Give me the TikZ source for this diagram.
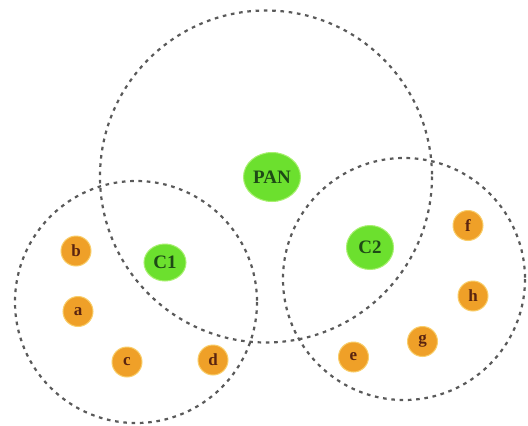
\documentclass[tikz,border=0pt]{standalone}
\usepackage{fontspec}
\setmainfont{Liberation Serif}
\usetikzlibrary{shapes.geometric}
\definecolor{ringgray}{HTML}{5A5A5A}
\definecolor{hubgreen}{HTML}{6CE02E}
\definecolor{hubrim}{HTML}{A8F070}
\definecolor{hubtext}{HTML}{1E4A16}
\definecolor{devorange}{HTML}{EFA028}
\definecolor{devrim}{HTML}{F9CE6A}
\definecolor{devtext}{HTML}{5A2410}
\tikzset{
  zone/.style={draw=ringgray, line width=2.2pt, dash pattern=on 3.6pt off 4.7pt},
  hub/.style={ellipse, fill=hubgreen, draw=hubrim, line width=1pt, inner sep=0pt,
              text=hubtext, font=\fontsize{19}{19}\selectfont\bfseries},
  dev/.style={circle, fill=devorange, draw=devrim, line width=1pt, inner sep=0pt,
              minimum size=30pt, text=devtext, font=\fontsize{17}{17}\selectfont\bfseries}
}
\begin{document}
\begin{tikzpicture}[x=1pt, y=-1pt]
\useasboundingbox (0,0) rectangle (528,426);
\fill[white] (0,0) rectangle (528,426);

% network ranges
\coordinate (panc) at (266,176.5);
\coordinate (c1c) at (136,302);
\coordinate (c2c) at (404,279);
\draw[zone] (panc) circle[radius=166];
\draw[zone] (c1c) circle[radius=121];
\draw[zone] (c2c) circle[radius=121];

% coordinators
\node[hub, minimum width=57pt, minimum height=49pt] (pan) at (272,177) {PAN};
\node[hub, minimum width=42pt, minimum height=37pt] (c1) at (165,262.5) {C1};
\node[hub, minimum width=47pt, minimum height=44pt] (c2) at (370,247.5) {C2};

% end devices
\node[dev] (b) at (76,251) {b};
\node[dev] (a) at (78,311.5) {a};
\node[dev] (c) at (127,362) {c};
\node[dev] (d) at (213,360) {d};
\node[dev] (e) at (353.5,357) {e};
\node[dev] (g) at (422.5,341.5) {g};
\node[dev] (h) at (473,296) {h};
\node[dev] (f) at (468,225.5) {f};
\end{tikzpicture}
\end{document}
